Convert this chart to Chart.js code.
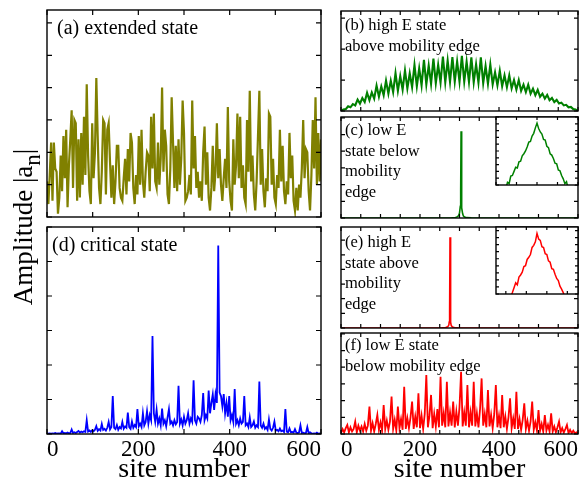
<!DOCTYPE html>
<html>
<head>
<meta charset="utf-8">
<script src="https://cdn.jsdelivr.net/npm/chart.js@4.4.1/dist/chart.umd.min.js"></script>
<style>
html, body { margin: 0; padding: 0; background: #fff; width: 581px; height: 481px; overflow: hidden; }
canvas { position: absolute; }
.lbl { position: absolute; font-family: "Liberation Serif", "Times New Roman", serif; color: #000; white-space: nowrap; }
</style>
</head>
<body>
<canvas id="pa"></canvas>
<canvas id="pd"></canvas>
<canvas id="pb"></canvas>
<canvas id="pc"></canvas>
<canvas id="pci"></canvas>
<canvas id="pe"></canvas>
<canvas id="pei"></canvas>
<canvas id="pf"></canvas>

<div class="lbl" style="left:57px;top:15px;font-size:20px;line-height:24px">(a) extended state</div>
<div class="lbl" style="left:52px;top:232px;font-size:20px;line-height:24px">(d) critical state</div>
<div class="lbl" style="left:345px;top:15px;font-size:16.5px;line-height:20.6px">(b) high E state<br>above mobility edge</div>
<div class="lbl" style="left:345px;top:120px;font-size:16.5px;line-height:20.6px">(c) low E<br>state below<br>mobility<br>edge</div>
<div class="lbl" style="left:345px;top:232px;font-size:16.5px;line-height:20.6px">(e) high E<br>state above<br>mobility<br>edge</div>
<div class="lbl" style="left:345px;top:335px;font-size:16.5px;line-height:20.6px">(f) low E state<br>below mobility edge</div>
<div class="lbl" style="left:-96px;top:211px;width:240px;text-align:center;font-size:27px;line-height:30px;transform:rotate(-90deg)">Amplitude |a<span style="position:relative;top:8px;font-size:23px">n</span>|</div>

<script>
const SERIF = '"Liberation Serif", "Times New Roman", serif';
const xTickLabels = [0, 200, 400, 600];

// (a) extended state, sites 0..600 every 3
const ampA = [
  1.1, 0.4, 1.3, 2.3, 0.5, 2.3, 1.5, 1.4, 0.1, 0.6,
  1.9, 0.8, 2.5, 1.2, 2.7, 0.3, 1.6, 2.4, 3.3, 0.9,
  3.0, 2.9, 0.5, 2.4, 0.6, 2.6, 1.0, 3.1, 1.3, 4.1,
  1.9, 0.8, 0.4, 2.9, 1.2, 2.0, 4.3, 2.5, 0.9, 0.4,
  1.4, 3.0, 2.9, 0.7, 2.7, 2.9, 1.7, 0.6, 1.6, 0.4,
  1.1, 2.2, 2.2, 0.9, 0.6, 0.5, 1.2, 1.8, 0.7, 2.1,
  1.1, 2.6, 2.3, 0.9, 0.4, 1.3, 0.7, 2.5, 1.0, 2.7,
  1.1, 0.6, 1.4, 2.0, 1.9, 0.8, 3.1, 1.5, 3.2, 1.1,
  0.9, 2.3, 1.0, 1.8, 4.0, 1.4, 2.7, 2.2, 0.7, 0.4,
  1.5, 3.7, 2.3, 0.9, 2.2, 0.8, 2.4, 1.0, 1.8, 3.6,
  2.6, 0.5, 0.6, 0.8, 1.3, 0.7, 3.6, 1.5, 2.5, 0.9,
  1.4, 0.6, 1.1, 0.5, 2.0, 2.8, 1.0, 2.0, 0.6, 0.2,
  0.9, 2.2, 0.8, 1.4, 2.9, 1.2, 2.1, 1.0, 0.5, 1.2,
  1.8, 0.9, 3.4, 1.1, 0.5, 0.2, 2.4, 1.0, 1.6, 3.2,
  1.2, 3.1, 0.9, 1.6, 0.6, 0.4, 3.0, 1.4, 3.9, 1.1,
  1.9, 0.7, 0.2, 1.1, 2.5, 3.9, 1.0, 2.1, 0.8, 0.3,
  1.2, 0.8, 3.2, 3.1, 1.0, 1.8, 0.6, 0.4, 1.3, 0.9,
  2.7, 1.1, 2.2, 0.8, 0.4, 1.1, 0.7, 2.6, 1.2, 1.9,
  0.5, 0.2, 0.9, 0.2, 1.0, 0.6, 1.5, 3.0, 1.2, 2.1,
  2.0, 0.8, 0.2, 1.3, 3.0, 1.5, 3.7, 1.0, 2.6, 1.1,
  2.4
];

// (d) critical state, sites 0..600 every 3
const ampD = [
  .02, .01, .02, .01, .02, .01, .03, .01, .02, .02,
  .01, .08, .02, .03, .02, .04, .02, .03, .13, .03,
  .05, .03, .06, .09, .04, .07, .05, .08, .06, .40,
  .07, .10, .06, .11, .08, .12, .23, .09, .14, .10,
  .29, .12, .15, .10, .18, .35, .13, .20, 1.1, .18,
  .14, .26, .12, .20, .16, .35, .15, .22, .18, .62,
  .20, .15, .36, .18, .26, .20, .72, .22, .30, .20,
  .60, .25, .35, .66, .30, .55, .40, 2.84, .60, .35,
  .70, .30, .45, .25, .74, .30, .40, .22, .48, .72,
  .30, .36, .25, .40, .28, .35, 1.4, .30, .42, .25,
  .50, .30, .40, .60, .30, .45, .35, 1.56, .40, .30,
  .50, .45, .35, .55, 1.19, .40, .55, .45, 1.26, .60,
  .90, 1.15, .70, 1.15, .90, 5.46, 1.20, 1.10, .80, 1.16,
  .60, .90, .50, 1.10, .40, .55, .35, 1.30, .30, .40,
  .25, .45, .30, .35, 1.10, .25, .30, .20, .48, .20,
  .25, .36, .18, .25, .20, 1.52, .25, .18, .30, .15,
  .20, .12, .42, .15, .10, .18, .36, .10, .12, .08,
  .16, .08, .10, .06, .72, .07, .05, .16, .05, .06,
  .04, .14, .04, .03, .05, .25, .03, .04, .02, .03,
  .20, .02, .05, .02, .01, .02, .01, .04, .01, .02,
  .01
];

// (b) high E state above mobility edge, sites 0..600 every 6
const ampB = [
  0, .05, .06, .15, .12, .22, .18, .37, .24, .42,
  .29, .59, .35, .60, .40, .82, .46, .79, .51, .98,
  .56, .98, .61, 1.22, .65, 1.13, .69, 1.31, .73, 1.22,
  .77, 1.49, .80, 1.38, .83, 1.65, .86, 1.47, .88, 1.69,
  .90, 1.49, .92, 1.76, .93, 1.63, .94, 1.74, .95, 1.60,
  .95, 1.78, .95, 1.59, .94, 1.73, .93, 1.51, .92, 1.73,
  .90, 1.45, .88, 1.50, .86, 1.25, .83, 1.30, .80, 1.15,
  .77, 1.15, .73, 1.00, .69, 1.00, .65, .85, .61, .85,
  .56, .72, .51, .68, .46, .56, .40, .52, .35, .42,
  .29, .36, .24, .27, .18, .20, .12, .13, .06, .05,
  0
];

// (f) low E state below mobility edge, sites 0..600 every 4
const ampF = [
  .05, .30, .10, .35, .54, .10, .40, .15, .30, .74,
  .10, .50, .20, .45, .15, .60, .20, .50, 1.64, .20,
  .65, .15, .60, 1.14, .25, .70, .20, 1.74, .30, .80,
  .25, .75, 2.24, .30, .85, .20, 1.64, .35, .90, .25,
  2.83, .30, .95, .35, 1.00, 1.94, .30, 1.05, .40, 2.44,
  .35, 1.10, .30, 1.20, 3.53, .40, 1.10, 2.34, .35, 1.20,
  .45, 1.50, .40, 3.43, .50, 1.25, .40, 3.13, .45, 1.30,
  .50, 1.94, .40, 1.35, .50, 1.60, 3.73, .45, 1.30, .50,
  2.93, .40, 1.30, .50, 3.13, .45, 1.25, .40, 1.50, 3.33,
  .50, 1.20, .40, 2.63, .45, 1.15, .35, 1.20, 2.93, .40,
  1.10, .35, 2.34, .40, 1.05, .30, 1.00, 2.14, .35, .95,
  .30, 2.53, .30, .90, .25, .85, 1.84, .30, .80, .20,
  .75, 1.94, .25, .70, .20, 1.44, .20, .60, .15, 1.14,
  .20, .55, .15, 1.24, .15, .45, .10, .40, .74, .10,
  .35, .08, .30, .54, .05, .25, .05, .20, .04, .10,
  .02
];

// (c) localized low E state
const sitesC = [0, 280, 290, 295, 298, 300, 302, 303, 304, 305, 306, 308, 310, 313, 318, 330, 600];
const ampC = [0, .01, .03, .08, .15, .30, .70, 1.6, 5.2, 1.5, .60, .25, .12, .06, .02, .01, 0];

// (e) localized high E state
const sitesE = [0, 255, 265, 270, 273, 274, 275, 276, 277, 278, 279, 282, 287, 297, 600];
const ampE = [0, .01, .03, .08, .20, .40, 1.0, 6.2, .90, .40, .18, .07, .03, .01, 0];

// insets: log amplitude around the peak
const sitesInC = [266, 268, 270, 272, 274, 276, 278, 280, 282, 284, 286, 288, 290, 292, 294, 296, 298, 300, 302, 304,
                  306, 308, 310, 312, 314, 316, 318, 320, 322, 324, 326, 328, 330, 332, 334, 336, 338, 340, 342];
const logAmpC = [-0.6, 0.4, 0.2, 1.3, 1.4, 2.0, 2.6, 2.5, 3.4, 3.5, 4.3, 4.6, 5.0, 5.6, 6.3, 6.4, 7.2, 7.6, 8.4, 9.1,
                 8.3, 7.8, 7.5, 6.7, 6.6, 5.7, 5.5, 4.6, 4.4, 3.9, 3.2, 3.1, 2.2, 2.1, 1.4, 0.9, 0.2, 0.5, -0.6];
const sitesInE = [244, 246, 248, 250, 252, 254, 256, 258, 260, 262, 264, 266, 268, 270, 272, 274, 276,
                  278, 280, 282, 284, 286, 288, 290, 292, 294, 296, 298, 300, 302, 304, 306, 308, 310];
const logAmpE = [-0.4, 0.2, 0.9, 1.6, 1.3, 2.4, 2.7, 3.1, 3.9, 4.0, 4.9, 5.2, 5.6, 6.6, 6.9, 7.4, 8.6,
                 7.8, 7.6, 6.7, 6.6, 5.7, 5.6, 4.7, 4.5, 3.6, 3.5, 2.8, 2.2, 1.9, 1.1, 0.7, 0.2, -0.5];

const grid = step => Array.from({length: 600 / step + 1}, (_, i) => i * step);

// frame with inward ticks on all four sides
const frame = {
  id: 'frame',
  beforeDraw(chart, args, o) {
    if (!o.bg) return;
    const {ctx, chartArea: a} = chart;
    ctx.save();
    ctx.fillStyle = o.bg;
    ctx.fillRect(a.left, a.top, a.width, a.height);
    ctx.restore();
  },
  afterDraw(chart, args, o) {
    const {ctx, chartArea: a, scales: {x, y}} = chart;
    ctx.save();
    ctx.strokeStyle = '#000';
    ctx.lineWidth = 1.2;
    ctx.beginPath();
    for (let v = (o.x0 ?? x.min); v <= x.max + 1e-6; v += o.dx) {
      const p = x.getPixelForValue(v);
      ctx.moveTo(p, a.bottom); ctx.lineTo(p, a.bottom - o.len);
      ctx.moveTo(p, a.top); ctx.lineTo(p, a.top + o.len);
    }
    for (let v = y.min; v <= y.max + 1e-6; v += o.dy) {
      const p = y.getPixelForValue(v);
      ctx.moveTo(a.left, p); ctx.lineTo(a.left + o.len, p);
      ctx.moveTo(a.right, p); ctx.lineTo(a.right - o.len, p);
    }
    ctx.stroke();
    ctx.lineWidth = 1.4;
    ctx.strokeRect(a.left, a.top, a.width, a.height);
    ctx.restore();
  }
};

function panel(id, box, xs, ys, o) {
  const pad = 6;
  const axisH = 52;
  const cv = document.getElementById(id);
  const w = box.w + 2 * pad;
  const h = box.h + pad + (o.axis ? axisH : pad);
  cv.width = w;
  cv.height = h;
  cv.style.width = w + 'px';
  cv.style.height = h + 'px';
  cv.style.left = (box.l - pad) + 'px';
  cv.style.top = (box.t - pad) + 'px';
  const xScale = {
    type: 'linear', min: o.xmin ?? 0, max: o.xmax ?? 600,
    display: !!o.axis,
    grid: {display: false, drawTicks: false},
    border: {display: false}
  };
  if (o.axis) {
    xScale.ticks = {
      stepSize: 200, autoSkip: false, maxRotation: 0, align: 'inner', padding: 2,
      color: '#000', font: {family: SERIF, size: 23},
      callback: v => xTickLabels.includes(v) ? String(v) : null
    };
    xScale.title = {display: true, text: 'site number', color: '#000', font: {family: SERIF, size: 28}, padding: 0};
    xScale.afterFit = s => { s.height = axisH; };
  }
  return new Chart(cv, {
    type: 'line',
    data: {
      datasets: [{
        data: xs.map((x, i) => ({x: x, y: ys[i]})),
        borderColor: o.color,
        borderWidth: o.lw,
        pointRadius: 0,
        tension: 0,
        fill: false
      }]
    },
    options: {
      responsive: false,
      maintainAspectRatio: false,
      animation: false,
      events: [],
      layout: {padding: {left: pad, right: pad, top: pad, bottom: o.axis ? 0 : pad}},
      plugins: {
        legend: {display: false},
        tooltip: {enabled: false},
        frame: {dx: o.dx, x0: o.x0, dy: 1, len: o.len, bg: o.bg}
      },
      scales: {
        x: xScale,
        y: {type: 'linear', min: 0, max: o.ymax, display: false}
      }
    },
    plugins: [frame]
  });
}

const OLIVE = 'rgb(128,128,0)', GREEN = 'rgb(0,128,0)', BLUE = 'rgb(0,0,255)', RED = 'rgb(255,0,0)';

panel('pa', {l: 47, t: 10, w: 274, h: 207}, grid(3), ampA, {color: OLIVE, lw: 2.2, ymax: 6.4, dx: 100, len: 5});
panel('pd', {l: 47, t: 227, w: 274, h: 207}, grid(3), ampD, {color: BLUE, lw: 1.8, ymax: 6, dx: 100, len: 5, axis: true});
panel('pb', {l: 341, t: 11, w: 237, h: 100}, grid(6), ampB, {color: GREEN, lw: 2.1, ymax: 3.23, dx: 50, len: 4});
panel('pc', {l: 341, t: 117, w: 237, h: 101}, sitesC, ampC, {color: GREEN, lw: 1.6, ymax: 6.05, dx: 50, len: 4});
panel('pci', {l: 496, t: 117, w: 82, h: 68}, sitesInC, logAmpC,
      {color: GREEN, lw: 1.5, xmin: 254, xmax: 354, ymax: 10, dx: 25, len: 3, bg: '#fff'});
panel('pe', {l: 341, t: 227, w: 237, h: 101}, sitesE, ampE, {color: RED, lw: 1.6, ymax: 6.9, dx: 50, len: 4});
panel('pei', {l: 496, t: 227, w: 82, h: 67}, sitesInE, logAmpE,
      {color: RED, lw: 1.5, xmin: 226, xmax: 326, ymax: 9.5, dx: 25, x0: 238, len: 3, bg: '#fff'});
panel('pf', {l: 341, t: 333, w: 237, h: 101}, grid(4), ampF, {color: RED, lw: 1.8, ymax: 6.05, dx: 50, len: 4, axis: true});
</script>
</body>
</html>
